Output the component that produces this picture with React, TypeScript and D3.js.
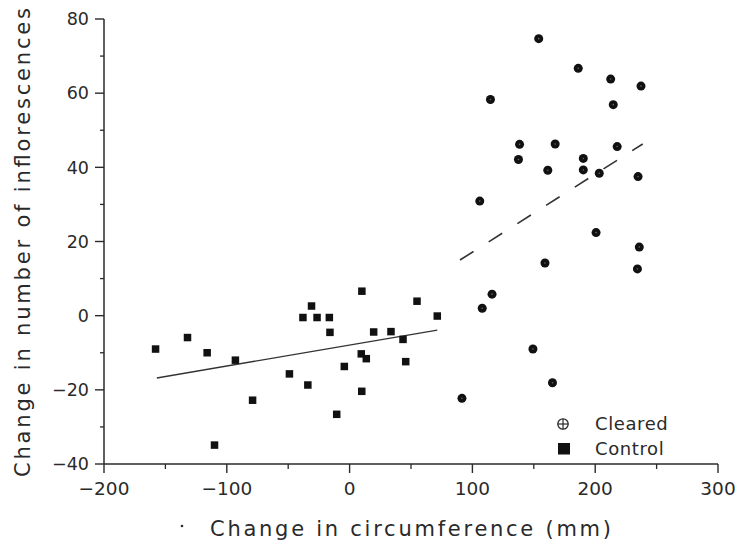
import React from "react";
import * as d3 from "d3";

// ---- Data ----
const controlX = [-158, -132, -116, -110, -93, -79, -49, -34, -38, -31, -26.5, -16.5, -16, -10.5, -4.3, 10, 9.5, 13.6, 9.9, 19.6, 33.7, 43.5, 45.7, 54.9, 71.4];
const controlY = [-9, -5.9, -10, -34.9, -12, -22.8, -15.7, -18.7, -0.5, 2.6, -0.5, -0.5, -4.5, -26.6, -13.7, 6.6, -10.3, -11.6, -20.4, -4.4, -4.3, -6.4, -12.4, 3.9, -0.1];

const clearedX = [154, 186.2, 212.6, 237.3, 114.7, 214.7, 138.4, 167.4, 217.9, 137.5, 190.3, 161.4, 190.3, 203.3, 234.9, 106, 200.7, 235.9, 159.1, 234.4, 116, 108, 149.3, 165.2, 91.5];
const clearedY = [74.7, 66.7, 63.8, 61.9, 58.3, 56.9, 46.2, 46.3, 45.6, 42.1, 42.4, 39.2, 39.3, 38.4, 37.5, 30.9, 22.4, 18.5, 14.2, 12.6, 5.8, 2.0, -9, -18.1, -22.3];

// fitted lines (end points)
const controlFitX = [-157, 71.4];
const controlFitY = [-16.8, -3.9];
const clearedFitX = [89.9, 238.7];
const clearedFitY = [15.0, 46.3];

const xMajorTicks = [-200, -100, 0, 100, 200, 300];
const xMinorTicks = [-150, -50, 50, 150, 250];
const yMajorTicks = [-40, -20, 0, 20, 40, 60, 80];
const yMinorTicks = [-30, -10, 10, 30, 50, 70];

const legendLabels = ["Cleared", "Control"];
const xTitle = "Change in circumference (mm)";
const yTitle = "Change in number of inflorescences";

export default function App() {
  const W = 740, H = 547;
  const x = d3.scaleLinear().domain([-200, 300]).range([104, 718]);
  const y = d3.scaleLinear().domain([-40, 80]).range([464, 19]);
  const fmt = d3.format("d");
  const ink = "#2a2a2a";
  const font = "'DejaVu Sans', sans-serif";

  const line = d3.line<[number, number]>().x((d) => x(d[0])).y((d) => y(d[1]));
  const controlFit = controlFitX.map((v, i) => [v, controlFitY[i]] as [number, number]);
  const clearedFit = clearedFitX.map((v, i) => [v, clearedFitY[i]] as [number, number]);

  const sq = 7.5;
  const x0 = x.range()[0];
  const yb = y.range()[0];

  return (
    <svg width={W} height={H} style={{ position: "absolute", left: 0, top: 0, background: "#fff" }} fontFamily={font}>
      <rect width={W} height={H} fill="#fff" />
      {/* axes */}
      <line x1={x0} x2={x0} y1={y(80)} y2={yb} stroke={ink} strokeWidth={1.5} />
      <line x1={x0} x2={x(300)} y1={yb} y2={yb} stroke={ink} strokeWidth={1.5} />
      {xMajorTicks.map((t) => (
        <g key={"xm" + t}>
          <line x1={x(t)} x2={x(t)} y1={yb} y2={yb + 9} stroke={ink} strokeWidth={1.4} />
          <text x={x(t)} y={495} textAnchor="middle" fontSize={18.5} fill={ink}>
            {fmt(t)}
          </text>
        </g>
      ))}
      {xMinorTicks.map((t) => (
        <line key={"xn" + t} x1={x(t)} x2={x(t)} y1={yb} y2={yb + 5} stroke={ink} strokeWidth={1.3} />
      ))}
      {yMajorTicks.map((t) => (
        <g key={"ym" + t}>
          <line x1={x0 - 9} x2={x0} y1={y(t)} y2={y(t)} stroke={ink} strokeWidth={1.4} />
          <text x={89} y={y(t)} dy="0.36em" textAnchor="end" fontSize={17.5} fill={ink}>
            {fmt(t)}
          </text>
        </g>
      ))}
      {yMinorTicks.map((t) => (
        <line key={"yn" + t} x1={x0 - 4} x2={x0} y1={y(t)} y2={y(t)} stroke={ink} strokeWidth={1.3} />
      ))}

      {/* fitted lines */}
      <path d={line(controlFit) || ""} fill="none" stroke="#333" strokeWidth={1.4} />
      <path d={line(clearedFit) || ""} fill="none" stroke="#333" strokeWidth={1.6} strokeDasharray="16 18" />

      {/* control squares */}
      {controlX.map((v, i) => (
        <rect key={"c" + i} x={x(v) - sq / 2} y={y(controlY[i]) - sq / 2} width={sq} height={sq} fill="#111" />
      ))}
      {/* cleared circles */}
      {clearedX.map((v, i) => (
        <g key={"k" + i}>
          <circle cx={x(v)} cy={y(clearedY[i])} r={4.5} fill="#111" />
          <circle cx={x(v)} cy={y(clearedY[i])} r={0.8} fill="#666" />
        </g>
      ))}

      {/* legend */}
      <g>
        <circle cx={563} cy={424} r={5.2} fill="none" stroke={ink} strokeWidth={1.3} />
        <line x1={557.8} x2={568.2} y1={424} y2={424} stroke={ink} strokeWidth={1.2} />
        <line x1={563} x2={563} y1={418.8} y2={429.2} stroke={ink} strokeWidth={1.2} />
        <text x={595} y={430} fontSize={18} fill={ink} letterSpacing={0.6}>{legendLabels[0]}</text>
        <rect x={558} y={443} width={12} height={11.5} fill="#111" />
        <text x={595} y={455} fontSize={18} fill={ink} letterSpacing={0.6}>{legendLabels[1]}</text>
      </g>

      {/* axis titles */}
      <text x={210} y={536} fontSize={21} fill={ink} textLength={401} lengthAdjust="spacing">
        {xTitle}
      </text>
      <circle cx={182} cy={526} r={1.3} fill={ink} />
      <text
        transform={`translate(30,477) rotate(-90)`}
        x={0}
        y={0}
        fontSize={21}
        fill={ink}
        textLength={469}
        lengthAdjust="spacing"
      >
        {yTitle}
      </text>
    </svg>
  );
}
